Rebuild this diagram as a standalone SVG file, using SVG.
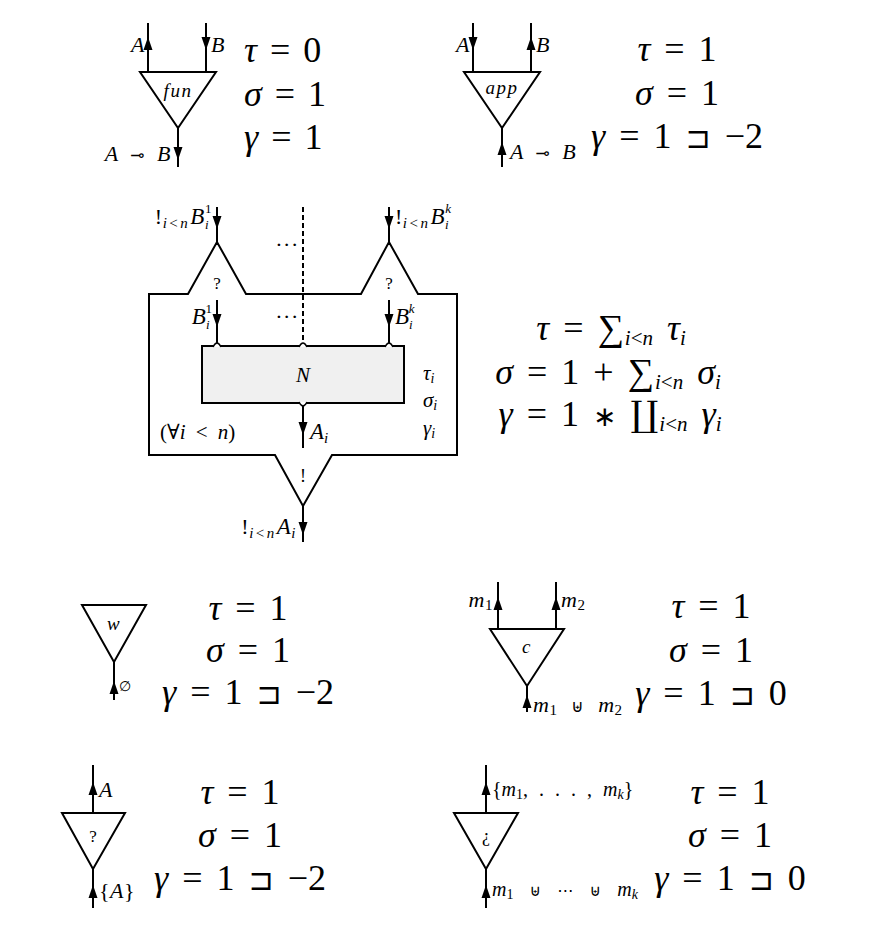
<svg xmlns="http://www.w3.org/2000/svg" width="889" height="945" viewBox="0 0 889 945">
<style>
.w{stroke:#000;stroke-width:2;fill:none}
.t{stroke:#000;stroke-width:2;fill:#fff;stroke-linejoin:miter}
text{fill:#000;font-family:"Liberation Serif","DejaVu Serif",serif}
.eq{font-size:36px;word-spacing:4px}
.eqc{font-size:36px;word-spacing:5px;text-anchor:middle}
.lb{font-size:22px;letter-spacing:0.5px}
.nd{font-size:19px;letter-spacing:1.5px;text-anchor:middle;font-style:italic}
.i{font-style:italic}
.n{font-style:normal}
.c{text-anchor:middle}
.e{text-anchor:end}
.sym{font-family:"DejaVu Sans",sans-serif;font-style:normal}
</style>
<defs>
<path id="ad" d="M0,0 L-4.5,-13 L4.5,-13 Z" fill="#000"/>
<path id="au" d="M0,0 L-4.5,13 L4.5,13 Z" fill="#000"/>
</defs>

<g id="connectors">
<path class="w" d="M148,23V72 M206,23V72 M178,128V167"/>
<path class="w" d="M473,23V72 M531,23V72 M502,128V167"/>
<path class="w" d="M217,207V242 M389,207V242 M217,300V344 M389,300V344 M303,405V448 M303,506V542"/>
<path class="w" d="M303,207V346" stroke-dasharray="5,3"/>
<path class="w" d="M114,662V700"/>
<path class="w" d="M498,582V629 M556,582V629 M527,686V712"/>
<path class="w" d="M93,765V813 M93,869V908"/>
<path class="w" d="M486,765V813 M486,869V908"/>
<use href="#au" x="148" y="37"/><use href="#ad" x="206" y="50"/><use href="#ad" x="178" y="160"/>
<use href="#ad" x="473" y="50"/><use href="#au" x="531" y="37"/><use href="#au" x="502" y="142"/>
<use href="#ad" x="217" y="229"/><use href="#ad" x="389" y="229"/>
<use href="#ad" x="217" y="327"/><use href="#ad" x="389" y="327"/>
<use href="#ad" x="303" y="435"/><use href="#ad" x="303" y="535"/>
<use href="#au" x="114" y="681"/>
<use href="#au" x="498" y="597"/><use href="#au" x="556" y="597"/><use href="#au" x="527" y="695"/>
<use href="#au" x="93" y="782"/><use href="#au" x="93" y="885"/>
<use href="#au" x="486" y="782"/><use href="#au" x="486" y="885"/>
</g>

<g id="fun">
<path class="t" d="M140,72 L216,72 L178,128 Z"/>
<text class="lb i e" x="145" y="52">A</text>
<text class="lb i" x="211" y="52">B</text>
<text class="nd" x="178" y="97">fun</text>
<text class="lb i e" x="171" y="161" word-spacing="6">A <tspan class="sym" font-size="17">⊸</tspan> B</text>
<text class="eq" x="244" y="62"><tspan class="i">τ</tspan> = 0</text>
<text class="eq" x="244" y="106"><tspan class="i">σ</tspan> = 1</text>
<text class="eq" x="244" y="149"><tspan class="i">γ</tspan> = 1</text>
</g>

<g id="app">
<path class="t" d="M464,72 L540,72 L502,128 Z"/>
<text class="lb i e" x="470" y="52">A</text>
<text class="lb i" x="536" y="52">B</text>
<text class="nd" x="502" y="94">app</text>
<text class="lb i" x="510" y="159" word-spacing="6">A <tspan class="sym" font-size="17">⊸</tspan> B</text>
<text class="eqc" x="677" y="61"><tspan class="i">τ</tspan> = 1</text>
<text class="eqc" x="677" y="105"><tspan class="i">σ</tspan> = 1</text>
<text class="eqc" x="677" y="148"><tspan class="i">γ</tspan> = 1 <tspan class="sym" font-size="30">⊐</tspan> −2</text>
</g>

<g id="box">
<path class="w" d="M149,294 H188 L217,242 L246,294 H361 L389,242 L418,294 H457 V455 H332 L303,506 L275,455 H149 Z"/>
<rect x="202" y="346" width="202" height="57" fill="#f0f0f0" stroke="#000" stroke-width="2"/>
<path d="M213,347 Q217,339 221,347 M299,347 Q303,339 307,347 M385,347 Q389,339 393,347 M299,402 Q303,410 307,402" fill="#fff" stroke="#000" stroke-width="1.5"/>
<text class="lb e" x="212" y="224">!<tspan class="i" font-size="15" dy="4">i</tspan><tspan font-size="15" dx="2">&lt;</tspan><tspan class="i" font-size="15" dx="2">n</tspan><tspan class="i" font-size="23" dy="-4" dx="2">B</tspan><tspan class="i" font-size="13" dy="5">i</tspan><tspan font-size="13" dx="-4" dy="-16">1</tspan><tspan font-size="1" dy="11"> </tspan></text>
<text class="lb" x="395" y="224">!<tspan class="i" font-size="15" dy="4">i</tspan><tspan font-size="15" dx="2">&lt;</tspan><tspan class="i" font-size="15" dx="2">n</tspan><tspan class="i" font-size="23" dy="-4" dx="2">B</tspan><tspan class="i" font-size="13" dy="5">i</tspan><tspan class="i" font-size="13" dx="-4" dy="-16">k</tspan></text>
<text class="lb c" x="287" y="252">···</text>
<text class="lb c" x="287" y="324">···</text>
<text class="c" x="217" y="289" font-size="17">?</text>
<text class="c" x="389" y="289" font-size="17">?</text>
<text class="i e" x="212" y="324" font-size="23">B<tspan font-size="13" dy="5">i</tspan><tspan class="n" font-size="13" dx="-4" dy="-16">1</tspan><tspan font-size="1" dy="11"> </tspan></text>
<text class="i" x="395" y="324" font-size="23">B<tspan font-size="13" dy="5">i</tspan><tspan font-size="13" dx="-4" dy="-16">k</tspan></text>
<text class="i c" x="303" y="382" font-size="21">N</text>
<text class="i" x="423" y="380" font-size="21">τ<tspan font-size="14" dy="3">i</tspan></text>
<text class="i" x="423" y="407" font-size="21">σ<tspan font-size="14" dy="3">i</tspan></text>
<text class="i" x="423" y="435" font-size="21">γ<tspan font-size="14" dy="3">i</tspan></text>
<text x="160" y="439" font-size="21" word-spacing="5">(∀<tspan class="i">i</tspan> &lt; <tspan class="i">n</tspan>)</text>
<text class="i" x="310" y="439" font-size="23">A<tspan font-size="15" dy="4">i</tspan></text>
<text class="c" x="303" y="482" font-size="18">!</text>
<text class="lb e" x="296" y="534">!<tspan class="i" font-size="15" dy="4">i</tspan><tspan font-size="15" dx="2">&lt;</tspan><tspan class="i" font-size="15" dx="2">n</tspan><tspan class="i" font-size="23" dy="-4" dx="2">A</tspan><tspan class="i" font-size="15" dy="4">i</tspan></text>
<text class="eqc" x="611" y="340" word-spacing="10"><tspan class="i">τ</tspan> = <tspan font-size="37">∑</tspan><tspan class="i" font-size="21" dy="5" dx="1">i</tspan><tspan font-size="21">&lt;</tspan><tspan class="i" font-size="21">n</tspan><tspan class="i" dy="-5"> τ</tspan><tspan class="i" font-size="21" dy="5">i</tspan></text>
<text class="eqc" x="608" y="384" word-spacing="9"><tspan class="i">σ</tspan> = 1 + <tspan font-size="37">∑</tspan><tspan class="i" font-size="21" dy="5" dx="1">i</tspan><tspan font-size="21">&lt;</tspan><tspan class="i" font-size="21">n</tspan><tspan class="i" dy="-5"> σ</tspan><tspan class="i" font-size="21" dy="5">i</tspan></text>
<text class="eqc" x="610" y="426" word-spacing="8"><tspan class="i">γ</tspan> = 1 <tspan class="sym" font-size="28">∗</tspan> <tspan font-size="35">∐</tspan><tspan class="i" font-size="21" dy="5" dx="1">i</tspan><tspan font-size="21">&lt;</tspan><tspan class="i" font-size="21">n</tspan><tspan class="i" dy="-5"> γ</tspan><tspan class="i" font-size="21" dy="5">i</tspan></text>
</g>

<g id="w">
<path class="t" d="M82,605 L146,605 L114,662 Z"/>
<text class="nd" x="114" y="630">w</text>
<text x="119" y="691" font-size="14">∅</text>
<text class="eqc" x="248" y="620"><tspan class="i">τ</tspan> = 1</text>
<text class="eqc" x="248" y="662"><tspan class="i">σ</tspan> = 1</text>
<text class="eqc" x="248" y="704"><tspan class="i">γ</tspan> = 1 <tspan class="sym" font-size="30">⊐</tspan> −2</text>
</g>

<g id="c">
<path class="t" d="M490,629 L564,629 L527,686 Z"/>
<text class="lb i e" x="493" y="607">m<tspan class="n" font-size="15" dy="3">1</tspan></text>
<text class="lb i" x="561" y="607">m<tspan class="n" font-size="15" dy="3">2</tspan></text>
<text class="lb i" x="533" y="712" word-spacing="8">m<tspan class="n" font-size="15" dy="3">1</tspan><tspan class="sym" font-size="17" dy="-3"> ⊎ </tspan>m<tspan class="n" font-size="15" dy="3">2</tspan></text>
<text class="nd" x="527" y="653">c</text>
<text class="eqc" x="711" y="618"><tspan class="i">τ</tspan> = 1</text>
<text class="eqc" x="711" y="662"><tspan class="i">σ</tspan> = 1</text>
<text class="eqc" x="711" y="705"><tspan class="i">γ</tspan> = 1 <tspan class="sym" font-size="30">⊐</tspan> 0</text>
</g>

<g id="query">
<path class="t" d="M62,813 L125,813 L93,869 Z"/>
<text class="lb i" x="99" y="797">A</text>
<text class="lb" x="99" y="898" letter-spacing="1.5">{<tspan class="i">A</tspan>}</text>
<text class="c" x="93" y="842" font-size="17">?</text>
<text class="eqc" x="240" y="804"><tspan class="i">τ</tspan> = 1</text>
<text class="eqc" x="240" y="847"><tspan class="i">σ</tspan> = 1</text>
<text class="eqc" x="240" y="890"><tspan class="i">γ</tspan> = 1 <tspan class="sym" font-size="30">⊐</tspan> −2</text>
</g>

<g id="inv">
<path class="t" d="M454,813 L518,813 L486,869 Z"/>
<text x="492" y="796" font-size="20" word-spacing="6">{<tspan class="i">m</tspan><tspan font-size="14" dy="3">1</tspan><tspan dy="-3">, . . . , </tspan><tspan class="i">m</tspan><tspan class="i" font-size="14" dy="3">k</tspan><tspan dy="-3">}</tspan></text>
<text x="492" y="896" font-size="20" word-spacing="11"><tspan class="i">m</tspan><tspan font-size="14" dy="3">1</tspan><tspan class="sym" font-size="16" dy="-3"> ⊎ ⋯ ⊎ </tspan><tspan class="i">m</tspan><tspan class="i" font-size="14" dy="3">k</tspan></text>
<text class="c" x="486" y="842" font-size="18">¿</text>
<text class="eqc" x="730" y="804"><tspan class="i">τ</tspan> = 1</text>
<text class="eqc" x="730" y="847"><tspan class="i">σ</tspan> = 1</text>
<text class="eqc" x="730" y="890"><tspan class="i">γ</tspan> = 1 <tspan class="sym" font-size="30">⊐</tspan> 0</text>
</g>
</svg>
